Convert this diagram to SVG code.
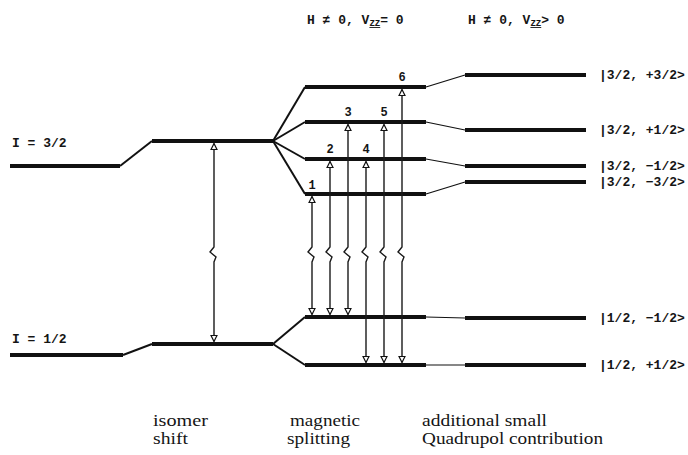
<svg xmlns="http://www.w3.org/2000/svg" width="688" height="455" viewBox="0 0 688 455">
  <defs>
    <!-- hollow triangular arrowhead, tip at the path end -->
    <marker id="head" viewBox="0 0 8 8" refX="7.2" refY="4" markerWidth="7.5" markerHeight="7.5" markerUnits="userSpaceOnUse" orient="auto-start-reverse">
      <path d="M0.6,0.7 L7.2,4 L0.6,7.3 Z" fill="#fff" stroke="#111" stroke-width="1.3" stroke-linejoin="miter"/>
    </marker>
    <style>
      .lvl { stroke: #111; stroke-width: 4; stroke-linecap: butt; }
      .split { stroke: #111; stroke-width: 2; fill: none; }
      .thin { stroke: #111; stroke-width: 1.2; fill: none; }
      .arr { stroke: #1a1a1a; stroke-width: 1.4; fill: none; marker-start: url(#head); marker-end: url(#head); }
      .mono { font-family: "Liberation Mono", "DejaVu Sans Mono", monospace; font-weight: bold; fill: #151515; }
      .lab { font-size: 13px; }
      .num { font-size: 12px; text-anchor: middle; }
      .cap { font-family: "Liberation Serif", "Times New Roman", serif; font-size: 17px; fill: #151515; }
    </style>
  </defs>
  <rect width="688" height="455" fill="#fff"/>

  <!-- column headings -->
  <g id="heading-zeeman">
    <text class="mono lab" x="307" y="24">H ≠ 0,  V<tspan font-size="9" dy="2" text-decoration="underline">ZZ</tspan><tspan dy="-2">= 0</tspan></text>
  </g>
  <g id="heading-quadrupole">
    <text class="mono lab" x="468" y="24">H ≠ 0,  V<tspan font-size="9" dy="2" text-decoration="underline">ZZ</tspan><tspan dy="-2">&gt; 0</tspan></text>
  </g>

  <!-- unperturbed nuclear levels -->
  <g id="level-I32">
    <line class="lvl" x1="10" y1="166" x2="120" y2="166"/>
    <text class="mono lab" x="12" y="147">I = 3/2</text>
  </g>
  <g id="level-I12">
    <line class="lvl" x1="10" y1="355" x2="123" y2="355"/>
    <text class="mono lab" x="12" y="343">I = 1/2</text>
  </g>

  <!-- isomer-shifted levels -->
  <g id="iso-excited"><line class="lvl" x1="152" y1="141" x2="273" y2="141"/></g>
  <g id="iso-ground"><line class="lvl" x1="152" y1="344" x2="273" y2="344"/></g>

  <!-- magnetic sublevels -->
  <g id="mag-e-p32"><line class="lvl" x1="305" y1="87" x2="426" y2="87"/></g>
  <g id="mag-e-p12"><line class="lvl" x1="305" y1="122" x2="426" y2="122"/></g>
  <g id="mag-e-m12"><line class="lvl" x1="305" y1="159" x2="426" y2="159"/></g>
  <g id="mag-e-m32"><line class="lvl" x1="305" y1="194" x2="426" y2="194"/></g>
  <g id="mag-g-m12"><line class="lvl" x1="305" y1="317" x2="426" y2="317"/></g>
  <g id="mag-g-p12"><line class="lvl" x1="305" y1="365" x2="426" y2="365"/></g>

  <!-- quadrupole-shifted sublevels with state labels -->
  <g id="quad-e-p32">
    <line class="lvl" x1="465" y1="75" x2="586" y2="75"/>
    <text class="mono lab" x="599" y="79">|3/2, +3/2&gt;</text>
  </g>
  <g id="quad-e-p12">
    <line class="lvl" x1="465" y1="130" x2="586" y2="130"/>
    <text class="mono lab" x="599" y="134">|3/2, +1/2&gt;</text>
  </g>
  <g id="quad-e-m12">
    <line class="lvl" x1="465" y1="166" x2="586" y2="166"/>
    <text class="mono lab" x="599" y="170">|3/2, −1/2&gt;</text>
  </g>
  <g id="quad-e-m32">
    <line class="lvl" x1="465" y1="182" x2="586" y2="182"/>
    <text class="mono lab" x="599" y="186">|3/2, −3/2&gt;</text>
  </g>
  <g id="quad-g-m12">
    <line class="lvl" x1="465" y1="318" x2="586" y2="318"/>
    <text class="mono lab" x="599" y="322">|1/2, −1/2&gt;</text>
  </g>
  <g id="quad-g-p12">
    <line class="lvl" x1="465" y1="365" x2="586" y2="365"/>
    <text class="mono lab" x="599" y="369">|1/2, +1/2&gt;</text>
  </g>

  <!-- connectors: level correlations and transitions -->
  <g id="connectors">
    <line class="split" x1="120" y1="166" x2="152" y2="141"/>
    <line class="split" x1="123" y1="355" x2="152" y2="344" stroke-width="1.5"/>

    <line class="split" x1="273" y1="141" x2="305" y2="87"/>
    <line class="split" x1="273" y1="141" x2="305" y2="122"/>
    <line class="split" x1="273" y1="141" x2="305" y2="159"/>
    <line class="split" x1="273" y1="141" x2="305" y2="194"/>
    <line class="split" x1="273" y1="344" x2="305" y2="317"/>
    <line class="split" x1="273" y1="344" x2="305" y2="365"/>

    <line class="thin" x1="426" y1="87" x2="465" y2="75"/>
    <line class="thin" x1="426" y1="122" x2="465" y2="130"/>
    <line class="thin" x1="426" y1="159" x2="465" y2="166"/>
    <line class="thin" x1="426" y1="194" x2="465" y2="182"/>
    <line class="thin" x1="426" y1="317" x2="465" y2="318"/>
    <line class="thin" x1="426" y1="365" x2="465" y2="365"/>

    <!-- isomer-shift transition -->
    <path class="arr" d="M214,143.5 L214,247 l-4,5 l6,5 l-2,5 L214,341.5"/>

    <!-- six magnetic dipole transitions -->
    <path class="arr" d="M312,196.5 L312,247 l-4,5 l6,5 l-2,5 L312,314.5"/>
    <path class="arr" d="M330,161.5 L330,247 l-4,5 l6,5 l-2,5 L330,314.5"/>
    <path class="arr" d="M348,124.5 L348,247 l-4,5 l6,5 l-2,5 L348,314.5"/>
    <path class="arr" d="M366,161.5 L366,247 l-4,5 l6,5 l-2,5 L366,362.5"/>
    <path class="arr" d="M384,124.5 L384,247 l-4,5 l6,5 l-2,5 L384,362.5"/>
    <path class="arr" d="M402,89.5 L402,247 l-4,5 l6,5 l-2,5 L402,362.5"/>
  </g>

  <!-- transition numbers -->
  <g id="transition-numbers" class="mono num">
    <text x="312" y="189">1</text>
    <text x="330" y="153">2</text>
    <text x="348" y="116">3</text>
    <text x="366" y="153">4</text>
    <text x="384" y="116">5</text>
    <text x="402" y="81">6</text>
  </g>

  <!-- column captions -->
  <g id="captions" class="cap">
    <text x="153" y="426" textLength="55" lengthAdjust="spacingAndGlyphs">isomer</text>
    <text x="153" y="444" textLength="35" lengthAdjust="spacingAndGlyphs">shift</text>
    <text x="290" y="426" textLength="70" lengthAdjust="spacingAndGlyphs">magnetic</text>
    <text x="287" y="444" textLength="63" lengthAdjust="spacingAndGlyphs">splitting</text>
    <text x="422" y="426" textLength="125" lengthAdjust="spacingAndGlyphs">additional small</text>
    <text x="422" y="444" textLength="181" lengthAdjust="spacingAndGlyphs">Quadrupol contribution</text>
  </g>
</svg>
